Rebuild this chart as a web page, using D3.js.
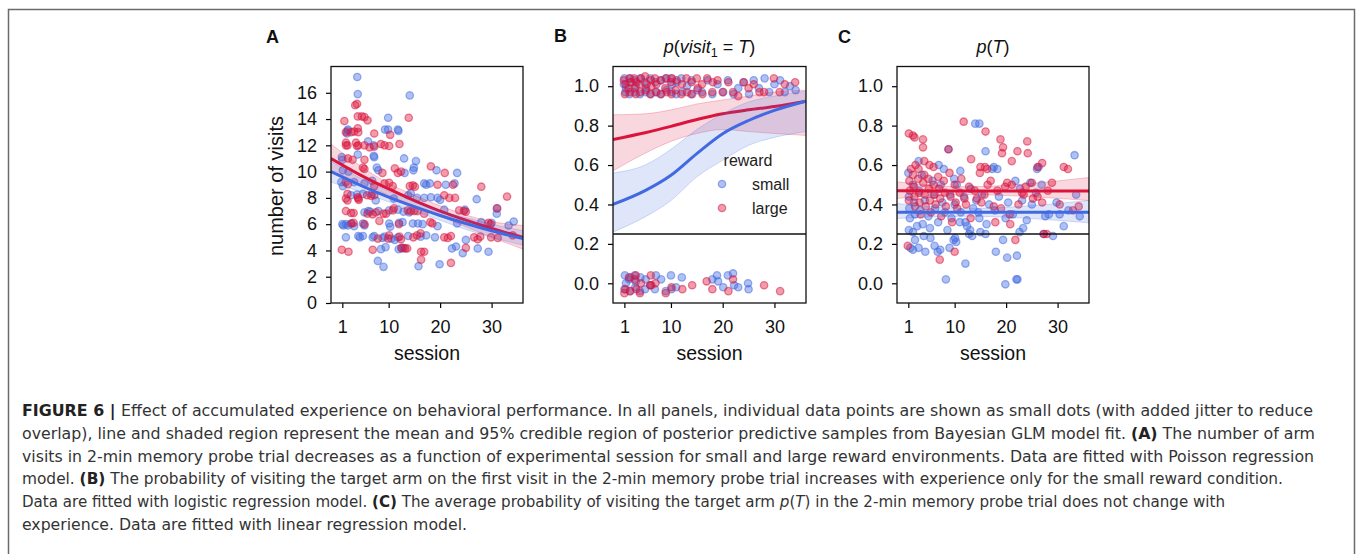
<!DOCTYPE html>
<html>
<head>
<meta charset="utf-8">
<script src="https://cdn.jsdelivr.net/npm/d3@7"></script>
<style>
  html, body { margin: 0; padding: 0; background: #fff; }
  svg { display: block; }
  text { white-space: pre; }
</style>
</head>
<body>
<div id="chart"></div>
<script>
// ---- data ----
const sessionTicks = [1, 10, 20, 30];
const visitTicks = [0, 2, 4, 6, 8, 10, 12, 14, 16];
const probTicks = [0, 0.2, 0.4, 0.6, 0.8, 1.0];
const rewardLabels = ["small", "large"];

// A: number of visits, [session, visits] with jitter
const visitsSmall = [
  [3.9,17.2],[4.0,15.9],[14.1,15.8],[9.9,14.1],[9.3,13.2],[9.9,13.2],[11.8,13.2],[11.9,13.1],[2.0,13.1],[1.9,12.9],
  [6.0,12.3],[7.1,12.0],[4.0,11.3],[7.1,11.2],[7.2,11.1],[0.9,11.1],[1.0,10.9],[13.0,11.0],[15.3,10.8],[14.9,10.3],
  [7.7,10.3],[23.3,9.9],[19.3,10.1],[0.8,9.2],[3.3,9.2],[5.3,9.1],[6.8,9.3],[16.9,9.1],[18.0,9.1],[17.3,9.0],
  [21.1,9.0],[22.8,9.1],[19.5,8.0],[31.0,6.8],[31.0,7.2],[28.0,6.15],[30.0,6.1],[34.3,6.2],[33.3,5.9],[23.3,6.05],
  [25.0,4.8],[27.3,4.15],[29.4,3.9],[24.4,3.8],[23.1,4.3],[22.3,4.15],[19.9,2.95],[15.8,2.8],[9.0,2.75],[7.9,3.2],
  [8.5,4.1],[9.4,4.25],[11.95,4.1],[12.5,4.15],[1.7,5.0],[4.1,5.1],[5.0,5.1],[6.9,5.0],[7.2,5.1],[8.8,4.95],
  [9.2,5.05],[10.5,4.9],[11.8,5.0],[13.8,5.1],[16.2,5.05],[17.3,5.15],[19.0,5.0],[1.7,6.0],[2.1,5.9],[2.7,6.05],
  [3.3,5.85],[5.0,6.05],[5.3,5.9],[10.1,6.05],[10.3,5.8],[12.0,6.1],[12.7,6.15],[14.7,6.05],[15.7,6.05],[16.6,6.0],
  [19.5,5.85],[5.3,6.9],[6.05,7.0],[6.4,6.95],[8.0,7.0],[10.1,7.05],[12.9,6.95],[14.0,6.9],[11.8,7.1],[2.7,8.2],
  [3.85,8.25],[5.0,8.3],[6.7,8.3],[7.5,7.8],[11.0,7.95],[13.8,8.2],[14.3,8.35],[15.5,8.0],[16.9,8.0],[18.2,8.05],
  [20.8,7.1],[24.8,7.1],[20.0,7.85],[27.1,7.9],[1.1,8.9],[2.2,10.0],[8.0,10.1],[14.8,10.1],[2.1,13.2],[1.0,6.0],
  [1.2,5.9],[4.4,5.0],[11.2,4.8],[12.9,4.2],[1.1,10.1],[13.1,9.9]
];
const visitsLarge = [
  [3.85,15.15],[3.5,15.05],[13.9,14.1],[1.4,13.85],[4.0,14.2],[4.8,14.2],[5.3,14.15],[5.9,13.9],[4.0,13.3],[4.1,13.0],
  [1.7,13.0],[2.7,13.0],[3.3,13.05],[1.7,12.2],[1.7,12.0],[2.0,12.0],[3.65,12.2],[3.85,11.95],[4.1,12.0],[5.3,12.0],
  [6.3,11.85],[7.2,11.9],[8.5,12.1],[9.2,12.0],[10.1,11.95],[12.1,12.1],[7.2,12.9],[10.3,12.8],[3.0,10.9],[5.3,10.9],
  [5.0,10.3],[5.3,10.2],[8.8,9.9],[11.2,10.25],[11.8,9.9],[12.4,10.0],[18.2,10.4],[20.9,9.9],[28.0,8.85],[33.0,8.1],
  [31.1,7.2],[20.8,8.2],[21.8,8.0],[22.9,8.0],[23.7,7.05],[24.6,7.0],[25.0,6.95],[1.65,9.2],[2.1,9.05],[7.2,8.9],
  [9.2,9.1],[10.1,9.15],[10.8,8.9],[14.1,8.9],[14.7,8.95],[15.1,8.85],[5.8,8.2],[6.6,8.15],[7.2,8.2],[4.0,8.05],
  [4.1,7.95],[4.2,7.85],[1.7,7.95],[2.0,7.8],[1.7,7.0],[2.7,6.85],[3.2,6.85],[5.9,6.8],[6.9,6.75],[7.5,6.9],
  [9.0,6.8],[9.5,6.8],[11.0,7.2],[10.8,7.05],[13.7,7.05],[14.3,7.0],[15.0,7.0],[15.6,7.0],[16.9,6.8],[8.2,6.25],
  [2.8,6.05],[3.2,6.1],[5.3,6.0],[18.1,6.15],[18.5,6.05],[29.4,6.1],[29.8,6.0],[34.1,5.15],[15.5,5.15],[16.2,5.3],
  [10.1,5.15],[9.9,4.9],[12.1,5.05],[12.4,4.85],[7.9,4.9],[12.5,4.2],[13.2,4.15],[13.6,4.15],[20.8,5.0],[21.5,4.95],
  [22.1,5.1],[26.6,5.0],[27.3,4.85],[27.8,5.05],[29.9,5.0],[31.2,4.95],[25.0,4.2],[16.3,3.9],[16.9,3.9],[16.3,3.3],
  [22.1,3.05],[6.9,4.05],[0.9,4.05],[2.2,3.9],[2.0,8.3],[19.5,9.0],[12.0,6.0],[14.8,5.0],[22.5,9.0],[2.1,11.0]
];
// A: Poisson fit, mean and 95% band
const fitSession = [-1.2, 5, 10, 15, 20, 25, 30, 36.1];
const visitsFitSmall   = [10.0, 8.88, 8.06, 7.33, 6.66, 6.05, 5.50, 4.90];
const visitsFitSmallLo = [9.2, 8.4, 7.7, 7.0, 6.3, 5.6, 5.0, 4.4];
const visitsFitSmallHi = [10.8, 9.4, 8.5, 7.7, 7.0, 6.5, 6.0, 5.5];
const visitsFitLarge   = [11.0, 9.64, 8.68, 7.80, 7.0, 6.31, 5.68, 5.0];
const visitsFitLargeLo = [10.0, 9.1, 8.2, 7.4, 6.6, 5.8, 5.0, 4.1];
const visitsFitLargeHi = [12.1, 10.3, 9.1, 8.2, 7.4, 6.7, 6.2, 5.9];

// B: first visit to target (1 = yes, 0 = no), jittered
const firstSmall = [
  [1.0,1.04],[1.2,0.97],[0.9,1.01],[1.3,0.99],[2.1,1.04],[2.0,0.96],[2.2,1.02],[3.0,0.97],[3.1,1.03],[3.2,1.0],
  [4.0,0.96],[4.1,1.04],[4.9,1.02],[5.1,0.97],[5.2,0.99],[6.0,1.04],[6.1,0.96],[7.0,1.02],[7.2,0.97],[8.0,0.96],
  [8.1,1.03],[9.0,1.04],[9.1,0.98],[10.0,1.04],[10.1,0.97],[10.2,1.01],[11.0,0.96],[11.1,1.02],[12.0,1.04],[12.2,0.97],
  [13.1,1.0],[13.9,0.96],[14.0,1.03],[15.1,0.98],[16.0,0.97],[17.1,1.03],[18.0,0.96],[19.0,1.01],[20.1,0.97],[21.0,1.03],
  [22.1,0.96],[23.0,0.99],[24.0,1.02],[25.1,0.96],[26.0,1.03],[27.0,0.99],[28.1,1.04],[29.0,0.97],[30.0,1.01],[31.1,1.03],
  [32.0,0.97],[33.0,1.0],[34.1,0.98],
  [1.0,-0.03],[1.1,0.04],[1.3,0.0],[1.9,0.02],[2.1,-0.04],[2.2,0.03],[3.0,0.04],[3.1,-0.02],[3.2,0.01],[4.0,-0.04],
  [4.1,0.03],[5.0,-0.03],[5.1,0.02],[6.0,-0.01],[6.9,-0.03],[7.1,0.04],[8.1,0.02],[9.0,-0.04],[10.0,0.04],[10.1,-0.03],
  [11.0,-0.02],[12.1,0.03],[18.0,0.02],[18.9,0.04],[19.1,0.01],[20.1,-0.02],[21.0,0.04],[22.0,0.05],[22.2,-0.01],[23.0,-0.02],
  [24.9,0.0],[25.0,-0.03]
];
const firstLarge = [
  [0.9,1.03],[1.1,0.96],[1.2,1.01],[1.8,0.99],[2.0,1.04],[2.1,0.97],[2.3,1.02],[2.9,1.04],[3.0,0.99],[3.2,0.96],
  [3.3,1.02],[3.9,1.01],[4.1,0.97],[4.2,1.04],[5.0,1.05],[5.1,0.98],[5.3,1.01],[6.0,0.96],[6.1,1.03],[6.2,1.0],
  [6.9,1.04],[7.1,0.97],[7.2,1.01],[8.0,1.03],[8.1,0.96],[8.9,0.99],[9.1,1.04],[9.2,0.97],[10.0,1.02],[10.1,0.96],
  [10.2,1.04],[10.9,0.98],[11.1,1.03],[12.0,0.96],[12.1,1.01],[13.0,1.04],[13.1,0.97],[14.0,1.02],[14.1,0.96],[15.0,1.04],
  [15.2,0.99],[16.0,1.01],[16.1,0.96],[17.0,1.04],[18.0,0.97],[18.1,1.02],[19.0,1.03],[20.0,0.97],[21.1,1.02],[22.0,0.97],
  [23.0,0.95],[24.1,1.02],[25.0,0.99],[26.0,1.01],[27.1,0.97],[28.0,0.97],[29.9,1.04],[31.0,0.97],[32.0,1.01],[34.0,1.02],
  [1.0,-0.05],[1.2,-0.03],[1.9,0.03],[2.1,-0.04],[3.0,0.02],[3.2,0.04],[3.3,-0.03],[4.0,-0.05],[4.2,0.0],[6.0,-0.01],
  [6.1,0.04],[6.2,-0.01],[7.0,0.0],[9.0,-0.05],[10.1,-0.02],[12.2,-0.03],[14.1,-0.01],[16.9,0.01],[18.0,-0.03],[21.1,-0.04],
  [22.0,0.02],[28.0,-0.01],[31.1,-0.04]
];
// B: logistic fit
const firstFitSmall   = [0.40, 0.47, 0.548, 0.658, 0.759, 0.826, 0.877, 0.924];
const firstFitSmallLo = [0.26, 0.337, 0.42, 0.54, 0.624, 0.70, 0.74, 0.77];
const firstFitSmallHi = [0.56, 0.60, 0.68, 0.78, 0.86, 0.92, 0.95, 0.975];
const firstFitLarge   = [0.73, 0.764, 0.796, 0.831, 0.86, 0.88, 0.897, 0.924];
const firstFitLargeLo = [0.57, 0.66, 0.72, 0.76, 0.78, 0.77, 0.76, 0.75];
const firstFitLargeHi = [0.855, 0.86, 0.88, 0.91, 0.93, 0.95, 0.97, 0.98];

// C: p(T) per session
const targetSmall = [
  [14.0,0.81],[14.8,0.81],[16.0,0.67],[8.8,0.68],[33.3,0.65],[3.0,0.62],[6.9,0.6],[7.9,0.58],[11.1,0.57],[17.6,0.59],
  [17.3,0.58],[18.3,0.58],[26.0,0.58],[26.3,0.59],[1.0,0.56],[21.8,0.52],[24.7,0.51],[26.9,0.5],[33.6,0.45],[34.3,0.34],
  [31.2,0.29],[30.4,0.35],[28.3,0.35],[25.0,0.40],[23.1,0.42],[23.3,0.28],[22.6,0.26],[29.1,0.24],[27.3,0.25],[19.4,0.22],
  [18.0,0.16],[22.1,0.14],[20.2,0.13],[12.1,0.10],[8.3,0.02],[19.85,-0.005],[22.0,0.02],[22.2,0.02],[1.9,0.26],[2.3,0.22],
  [1.4,0.18],[1.9,0.17],[3.0,0.18],[4.3,0.16],[4.0,0.24],[5.3,0.23],[6.1,0.19],[6.7,0.16],[7.2,0.17],[9.0,0.18],
  [9.8,0.22],[10.3,0.21],[10.1,0.23],[12.8,0.25],[13.4,0.24],[15.0,0.26],[16.0,0.25],[12.4,0.29],[13.0,0.27],[11.0,0.31],
  [14.8,0.33],[16.2,0.3],[1.1,0.44],[1.2,0.38],[1.3,0.33],[1.9,0.5],[2.1,0.41],[2.3,0.35],[3.1,0.47],[3.3,0.37],
  [3.8,0.3],[4.2,0.42],[4.9,0.34],[5.2,0.28],[5.9,0.45],[6.2,0.38],[6.8,0.31],[7.3,0.5],[7.6,0.41],[8.1,0.36],
  [8.6,0.27],[9.1,0.45],[9.4,0.33],[10.0,0.4],[10.4,0.5],[11.2,0.36],[11.8,0.44],[12.1,0.31],[13.1,0.48],[13.6,0.38],
  [14.2,0.42],[14.6,0.36],[15.3,0.45],[16.7,0.4],[17.8,0.37],[18.6,0.44],[19.9,0.33],[20.4,0.41],[21.3,0.35],[22.7,0.48],
  [24.0,0.32],[25.8,0.46],[27.6,0.34],[29.8,0.41],[32.1,0.37],[5.7,0.52],[3.6,0.55],[9.9,0.53],[1.1,0.27],[2.7,0.29]
];
const targetLarge = [
  [11.75,0.82],[16.0,0.77],[1.1,0.76],[1.9,0.75],[2.2,0.74],[3.85,0.73],[3.85,0.69],[18.9,0.73],[19.4,0.69],[19.2,0.66],
  [24.1,0.72],[24.2,0.66],[13.2,0.63],[8.8,0.68],[22.2,0.67],[21.1,0.62],[27.0,0.61],[26.1,0.59],[31.2,0.59],[4.1,0.62],
  [5.1,0.6],[1.5,0.58],[2.4,0.6],[3.0,0.58],[5.9,0.59],[15.0,0.59],[15.9,0.59],[16.3,0.58],[20.2,0.51],[21.1,0.5],
  [25.0,0.51],[28.9,0.51],[23.1,0.46],[23.4,0.45],[25.2,0.43],[27.0,0.41],[30.4,0.4],[33.0,0.37],[34.1,0.39],[20.8,0.3],
  [21.8,0.22],[27.3,0.25],[27.9,0.25],[10.0,0.16],[7.1,0.12],[0.9,0.19],[17.9,0.31],
  [1.2,0.52],[1.3,0.47],[1.1,0.42],[1.9,0.55],[2.1,0.49],[2.2,0.44],[2.3,0.39],[2.9,0.53],[3.1,0.46],[3.2,0.41],
  [3.4,0.35],[3.9,0.51],[4.1,0.55],[4.2,0.45],[4.4,0.39],[4.9,0.53],[5.0,0.48],[5.2,0.42],[5.4,0.36],[5.9,0.5],
  [6.1,0.45],[6.3,0.4],[6.8,0.54],[7.0,0.48],[7.2,0.43],[7.4,0.34],[7.9,0.52],[8.1,0.46],[8.3,0.39],[9.0,0.56],
  [9.2,0.44],[9.5,0.31],[10.0,0.5],[10.2,0.41],[10.5,0.38],[11.0,0.46],[11.3,0.53],[11.9,0.43],[12.2,0.4],[12.8,0.49],
  [13.1,0.33],[13.9,0.47],[14.3,0.43],[14.9,0.56],[15.2,0.41],[15.8,0.45],[16.4,0.5],[17.0,0.52],[17.6,0.39],[18.3,0.47],
  [19.0,0.38],[19.8,0.49],[20.7,0.35],[22.4,0.4],[23.8,0.49],[26.1,0.44],[28.1,0.47],[32.0,0.58]
];
// C: linear fit
const targetFitSession = [-1.2, 12, 36.1];
const targetFitSmall   = [0.361, 0.360, 0.360];
const targetFitSmallLo = [0.329, 0.34, 0.307];
const targetFitSmallHi = [0.405, 0.38, 0.42];
const targetFitLarge   = [0.469, 0.468, 0.468];
const targetFitLargeLo = [0.43, 0.45, 0.42];
const targetFitLargeHi = [0.515, 0.49, 0.537];

const chanceLevel = 0.25;

const captionLines = [
  [["FIGURE 6 | ", "b"], ["Effect of accumulated experience on behavioral performance. In all panels, individual data points are shown as small dots (with added jitter to reduce", ""]],
  [["overlap), line and shaded region represent the mean and 95% credible region of posterior predictive samples from Bayesian GLM model fit. ", ""], ["(A)", "b"], [" The number of arm", ""]],
  [["visits in 2-min memory probe trial decreases as a function of experimental session for small and large reward environments. Data are fitted with Poisson regression", ""]],
  [["model. ", ""], ["(B)", "b"], [" The probability of visiting the target arm on the first visit in the 2-min memory probe trial increases with experience only for the small reward condition.", ""]],
  [["Data are fitted with logistic regression model. ", ""], ["(C)", "b"], [" The average probability of visiting the target arm ", ""], ["p", "i"], ["(", ""], ["T", "i"], [") in the 2-min memory probe trial does not change with", ""]],
  [["experience. Data are fitted with linear regression model.", ""]]
];
const captionWidths = [1291, 1293, 1292, 1261, 1203, 445];

// ---- drawing ----
const W = 1358, H = 554;
const blue = "#4169e1", red = "#dc143c";
const font = "'Liberation Sans', Arial, sans-serif";

const svg = d3.select("#chart").append("svg")
  .attr("width", W).attr("height", H)
  .style("font-family", font);

// figure frame
svg.append("rect")
  .attr("x", 8.5).attr("y", 9.5).attr("width", 1346).attr("height", 620)
  .attr("fill", "none").attr("stroke", "#6b6b6b").attr("stroke-width", 1.5);

let clipCount = 0;

function panel(left, right, yDomain, yTicks, yFmt) {
  const top = 66.5, bottom = 303;
  const x = d3.scaleLinear().domain([-1.2, 36.1]).range([left, right]);
  const y = d3.scaleLinear().domain(yDomain).range([bottom, top]);
  const g = svg.append("g");
  const id = "clip" + (clipCount++);
  g.append("clipPath").attr("id", id).append("rect")
    .attr("x", left).attr("y", top).attr("width", right - left).attr("height", bottom - top);
  const inner = g.append("g").attr("clip-path", `url(#${id})`);

  const xAxis = g.append("g").attr("transform", `translate(0,${bottom})`)
    .call(d3.axisBottom(x).tickValues(sessionTicks).tickSize(5).tickPadding(12).tickSizeOuter(0));
  const yAxis = g.append("g").attr("transform", `translate(${left},0)`)
    .call(d3.axisLeft(y).tickValues(yTicks).tickFormat(yFmt).tickSize(5).tickPadding(9).tickSizeOuter(0));
  [xAxis, yAxis].forEach(a => {
    a.select(".domain").remove();
    a.selectAll("line").attr("stroke", "#000").attr("stroke-width", 1.2);
    a.selectAll("text").attr("fill", "#111").style("font-size", "18px").style("font-family", font);
  });

  g.append("text")
    .attr("x", (left + right) / 2).attr("y", 360)
    .attr("text-anchor", "middle").attr("fill", "#111")
    .style("font-size", "19.5px")
    .text("session");

  return { g, inner, x, y, left, right, top, bottom };
}

function frame(p) {
  p.g.append("rect")
    .attr("x", p.left).attr("y", p.top)
    .attr("width", p.right - p.left).attr("height", p.bottom - p.top)
    .attr("fill", "none").attr("stroke", "#111").attr("stroke-width", 1.3);
}

function dots(p, pts, color) {
  p.inner.append("g").selectAll("circle")
    .data(pts).join("circle")
    .attr("cx", d => p.x(d[0])).attr("cy", d => p.y(d[1]))
    .attr("r", 3.7)
    .attr("fill", color).attr("fill-opacity", 0.42)
    .attr("stroke", color).attr("stroke-opacity", 0.5).attr("stroke-width", 1.3);
}

function fit(p, xs, mean, lo, hi, color) {
  const rows = xs.map((s, i) => ({ s, m: mean[i], lo: lo[i], hi: hi[i] }));
  const area = d3.area().curve(d3.curveMonotoneX)
    .x(d => p.x(d.s)).y0(d => p.y(d.lo)).y1(d => p.y(d.hi));
  p.inner.append("path").datum(rows)
    .attr("d", area)
    .attr("fill", color).attr("fill-opacity", 0.17)
    .attr("stroke", color).attr("stroke-opacity", 0.22).attr("stroke-width", 1);
  const line = d3.line().curve(d3.curveMonotoneX)
    .x(d => p.x(d.s)).y(d => p.y(d.m));
  p.inner.append("path").datum(rows)
    .attr("d", line)
    .attr("fill", "none").attr("stroke", color).attr("stroke-width", 3);
}

function chance(p) {
  p.inner.append("line")
    .attr("x1", p.left).attr("x2", p.right)
    .attr("y1", p.y(chanceLevel)).attr("y2", p.y(chanceLevel))
    .attr("stroke", "#111").attr("stroke-width", 1.5);
}

function letter(x, y, t) {
  svg.append("text").attr("x", x).attr("y", y)
    .attr("fill", "#111").style("font-size", "18px").style("font-weight", "bold")
    .text(t);
}

// Panel A
const pA = panel(331, 523, [0, 18], visitTicks, d3.format("d"));
dots(pA, visitsSmall, blue);
dots(pA, visitsLarge, red);
fit(pA, fitSession, visitsFitLarge, visitsFitLargeLo, visitsFitLargeHi, red);
fit(pA, fitSession, visitsFitSmall, visitsFitSmallLo, visitsFitSmallHi, blue);
frame(pA);
svg.append("text")
  .attr("transform", "translate(283,186) rotate(-90)")
  .attr("text-anchor", "middle").attr("fill", "#111")
  .style("font-size", "20px")
  .text("number of visits");
letter(266, 43, "A");

// Panel B
const pB = panel(613, 806, [-0.1, 1.1], probTicks, d3.format(".1f"));
dots(pB, firstSmall, blue);
dots(pB, firstLarge, red);
fit(pB, fitSession, firstFitLarge, firstFitLargeLo, firstFitLargeHi, red);
fit(pB, fitSession, firstFitSmall, firstFitSmallLo, firstFitSmallHi, blue);
chance(pB);
frame(pB);
letter(554, 42, "B");
const tB = svg.append("text")
  .attr("x", (613 + 806) / 2).attr("y", 53)
  .attr("text-anchor", "middle").attr("fill", "#111")
  .style("font-size", "18px");
tB.append("tspan").style("font-style", "italic").text("p");
tB.append("tspan").text("(");
tB.append("tspan").style("font-style", "italic").text("visit");
tB.append("tspan").attr("dy", 4).style("font-size", "12.5px").text("1");
tB.append("tspan").attr("dy", -4).text(" = ");
tB.append("tspan").style("font-style", "italic").text("T");
tB.append("tspan").text(")");

// legend
const leg = svg.append("g");
leg.append("text").attr("x", 748).attr("y", 166)
  .attr("text-anchor", "middle").attr("fill", "#222")
  .style("font-size", "16px").text("reward");
[[blue, rewardLabels[0]], [red, rewardLabels[1]]].forEach(([c, t], i) => {
  const yy = 184 + i * 24;
  leg.append("circle").attr("cx", 722).attr("cy", yy).attr("r", 3.7)
    .attr("fill", c).attr("fill-opacity", 0.42)
    .attr("stroke", c).attr("stroke-opacity", 0.5).attr("stroke-width", 1.3);
  leg.append("text").attr("x", 752).attr("y", yy + 5.5)
    .attr("fill", "#222").style("font-size", "16px").text(t);
});

// Panel C
const pC = panel(897, 1089, [-0.1, 1.1], probTicks, d3.format(".1f"));
dots(pC, targetSmall, blue);
dots(pC, targetLarge, red);
fit(pC, targetFitSession, targetFitLarge, targetFitLargeLo, targetFitLargeHi, red);
fit(pC, targetFitSession, targetFitSmall, targetFitSmallLo, targetFitSmallHi, blue);
chance(pC);
frame(pC);
letter(838, 43, "C");
const tC = svg.append("text")
  .attr("x", (897 + 1089) / 2).attr("y", 53)
  .attr("text-anchor", "middle").attr("fill", "#111")
  .style("font-size", "18px");
tC.append("tspan").style("font-style", "italic").text("p");
tC.append("tspan").text("(");
tC.append("tspan").style("font-style", "italic").text("T");
tC.append("tspan").text(")");

// caption
const cap = svg.append("g")
  .style("font-family", "'Liberation Sans Narrow', 'DejaVu Sans Condensed', 'Liberation Sans', Arial, sans-serif")
  .style("font-size", "16.5px")
  .attr("fill", "#333");
captionLines.forEach((segs, i) => {
  const t = cap.append("text")
    .attr("x", 22).attr("y", 416 + i * 22.8)
    .attr("textLength", captionWidths[i])
    .attr("lengthAdjust", "spacingAndGlyphs");
  segs.forEach(([s, st]) => {
    const ts = t.append("tspan").text(s);
    if (st === "b") ts.style("font-weight", "bold").attr("fill", "#222");
    if (st === "i") ts.style("font-style", "italic");
  });
});
</script>
</body>
</html>
